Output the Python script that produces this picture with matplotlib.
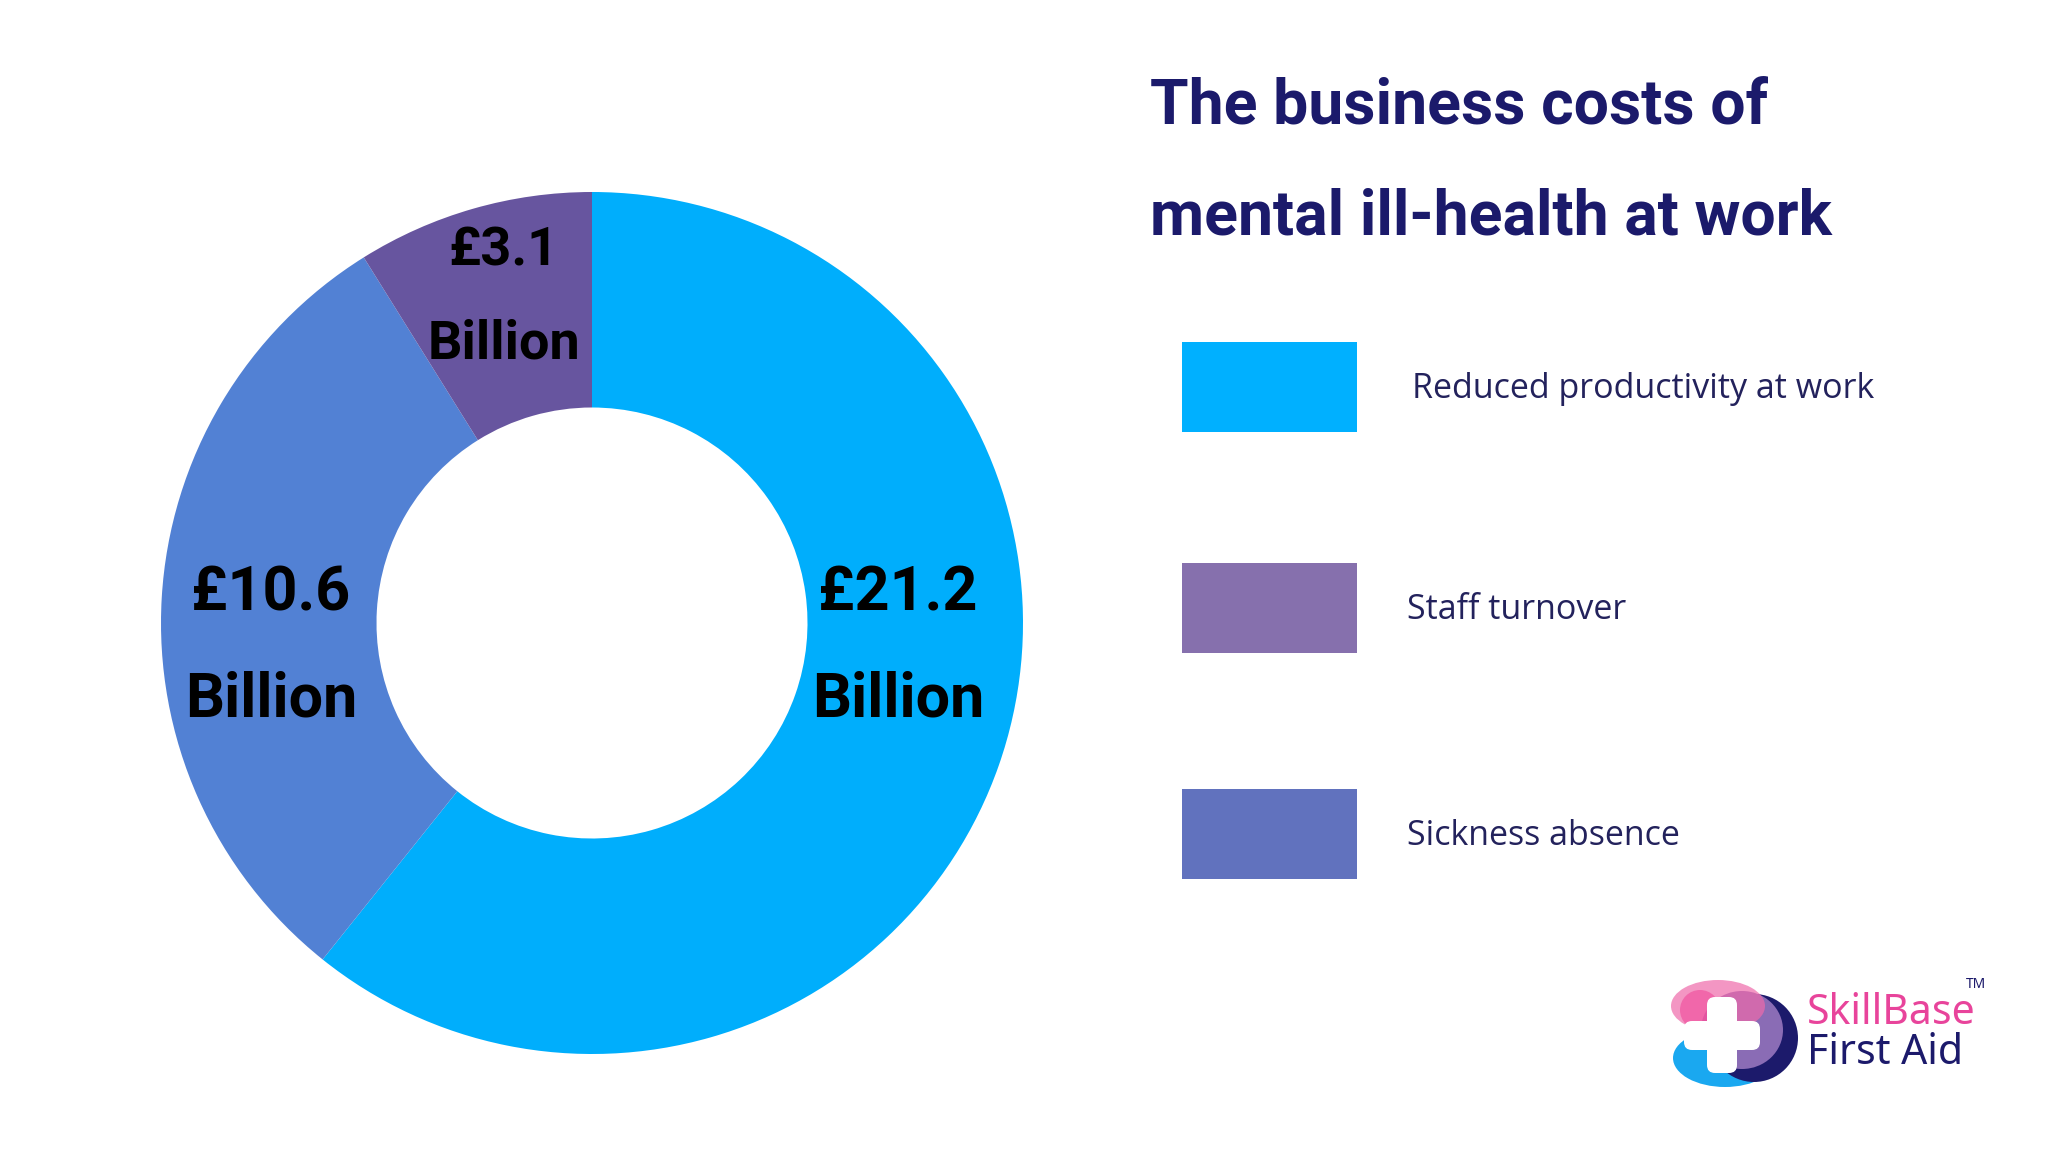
import matplotlib
matplotlib.use('Agg')
import matplotlib.pyplot as plt
from matplotlib.patches import Rectangle, Ellipse, FancyBboxPatch

# data
labels = ['Reduced productivity at work', 'Sickness absence', 'Staff turnover']
values = [21.2, 10.6, 3.1]
value_text = ['£21.2\nBillion', '£10.6\nBillion', '£3.1\nBillion']
pie_colors = ['#00AEFC', '#5281D4', '#67559F']

legend_labels = ['Reduced productivity at work', 'Staff turnover', 'Sickness absence']
legend_colors = ['#00B0FF', '#8670AD', '#6172BE']

title = 'The business costs of\nmental ill-health at work'

W, H = 2048, 1152
fig = plt.figure(figsize=(W / 100, H / 100), dpi=100)
fig.patch.set_facecolor('white')

hand = ['Roboto', 'DejaVu Sans']

# donut, 1 data unit = r pixels
cx, cy, r = 592, 623, 431
ax = fig.add_axes([(cx - r) / W, (H - cy - r) / H, 2 * r / W, 2 * r / H])
wedges, _ = ax.pie(values, colors=pie_colors, startangle=90, counterclock=False,
                   wedgeprops=dict(width=0.5, linewidth=0), radius=1.0)
ax.set_xlim(-1, 1)
ax.set_ylim(-1, 1)
ax.axis('off')
for w in wedges:
    w.set_clip_on(False)

# value labels
lab_pos = [(0.71, -0.055), (-0.745, -0.055), (-0.205, 0.755)]
lab_size = [44, 44, 39]
for (x, y), t, s in zip(lab_pos, value_text, lab_size):
    ax.text(x, y, t, ha='center', va='center', fontsize=s, fontweight='bold',
            family=hand, color='black', linespacing=2.05)

# overlay in pixel coords
ov = fig.add_axes([0, 0, 1, 1])
ov.set_xlim(0, W)
ov.set_ylim(H, 0)
ov.axis('off')

ov.text(1150, 162, title, ha='left', va='center', fontsize=45, fontweight='bold',
        family=hand, color='#1B1A6B', linespacing=2.1)

# legend
sw_x, sw_w, sw_h = 1182, 175, 90
sw_y = [342, 563, 789]
txt_x = [1412, 1407, 1407]
for y, x, c, t in zip(sw_y, txt_x, legend_colors, legend_labels):
    ov.add_patch(Rectangle((sw_x, y), sw_w, sw_h, color=c, lw=0))
    ov.text(x, y + sw_h / 2 + 2, t, ha='left', va='center', fontsize=24.5,
            family='Open Sans', color='#23225C')

# logo
ov.add_patch(Ellipse((1725, 1058), 104, 58, color='#1AA8F0', lw=0))
ov.add_patch(Ellipse((1754, 1038), 88, 88, color='#1C1A6B', lw=0))
ov.add_patch(Ellipse((1742, 1030), 82, 78, color='#8A6CB5', lw=0))
ov.add_patch(Ellipse((1718, 1006), 94, 52, color='#EE6AAA', lw=0, alpha=0.7))
ov.add_patch(Ellipse((1700, 1010), 40, 40, color='#F0489A', lw=0, alpha=0.6))
ov.add_patch(FancyBboxPatch((1684, 1021), 76, 29, boxstyle='round,pad=0,rounding_size=8',
                            color='white', lw=0))
ov.add_patch(FancyBboxPatch((1707, 997), 30, 76, boxstyle='round,pad=0,rounding_size=8',
                            color='white', lw=0))
ov.text(1807, 1013, 'SkillBase', ha='left', va='center', fontsize=29.5,
        family='Noto Sans', fontweight='semibold', color='#E8449B')
ov.text(1807, 1053, 'First Aid', ha='left', va='center', fontsize=29.5,
        family='Noto Sans', fontweight='semibold', color='#1C1A6B')
ov.text(1966, 985, 'TM', ha='left', va='center', fontsize=10,
        family='Noto Sans', fontweight='bold', color='#1C1A6B')

fig.savefig('out.png', dpi=100, facecolor='white')
